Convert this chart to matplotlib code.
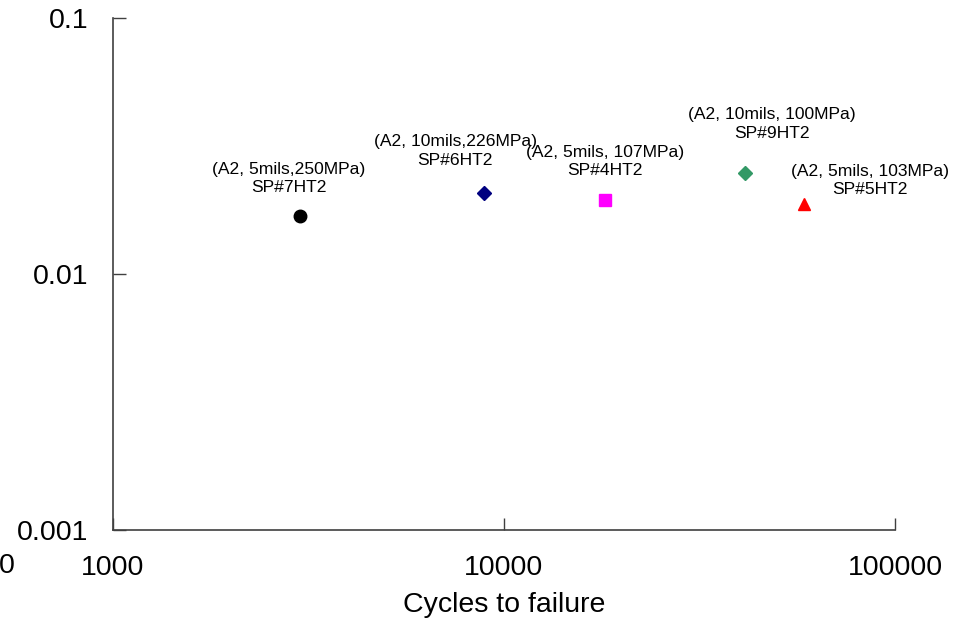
import numpy as np
import matplotlib.pyplot as plt

plt.rcParams['font.family'] = ['Liberation Sans', 'DejaVu Sans']

# data
cycles = [3000, 8900, 18100, 41300, 58500]
strain = [0.0169, 0.0207, 0.0195, 0.0248, 0.0188]
labels = ["(A2, 5mils,250MPa)\nSP#7HT2",
          "(A2, 10mils,226MPa)\nSP#6HT2",
          "(A2, 5mils, 107MPa)\nSP#4HT2",
          "(A2, 10mils, 100MPa)\nSP#9HT2",
          "(A2, 5mils, 103MPa)\nSP#5HT2"]
markers = ['o', 'D', 's', 'D', '^']
colors = ['#000000', '#000080', '#FF00FF', '#339966', '#FF0000']
sizes = [9, 7, 9, 7, 9]
# label offsets (pixels) from each point
offsets = [(-11, 37), (-29, 42), (0, 38), (27, 49), (66, 23)]

fig = plt.figure(figsize=(9.55, 6.34), dpi=100)
ax = fig.add_axes([113/955, 104/634, 782/955, 512/634])

for x, y, m, c, s, lab, off in zip(cycles, strain, markers, colors, sizes, labels, offsets):
    ax.plot(x, y, marker=m, color=c, markersize=s, linestyle='none')
    ax.annotate(lab, (x, y), xytext=off, textcoords='offset pixels',
                ha='center', va='center', fontsize=12.6, linespacing=1.28)

ax.set_xscale('log')
ax.set_yscale('log')
ax.set_xlim(1000, 100000)
ax.set_ylim(0.001, 0.1)
ax.set_xticks([1000, 10000, 100000])
ax.set_xticklabels(['1000', '10000', '100000'])
ax.set_yticks([0.001, 0.01, 0.1])
ax.set_yticklabels(['0.001', '0.01', '0.1'])
ax.minorticks_off()
ax.tick_params(direction='in', length=9, width=1, color='#404040', labelsize=20.5, pad=18)

for side in ['top', 'right']:
    ax.spines[side].set_visible(False)
for side in ['left', 'bottom']:
    ax.spines[side].set_color('#404040')
    ax.spines[side].set_linewidth(1.2)

ax.set_xlabel('Cycles to failure', fontsize=20.5, labelpad=8)
fig.text(3/955, 1 - 262/634, 'Plastic Strain', rotation=90, fontsize=20.5,
         ha='right', va='center')
fig.text(15/955, 1 - 566/634, '0', fontsize=20.5, ha='right', va='center')

fig.savefig('out.png', dpi=100)
